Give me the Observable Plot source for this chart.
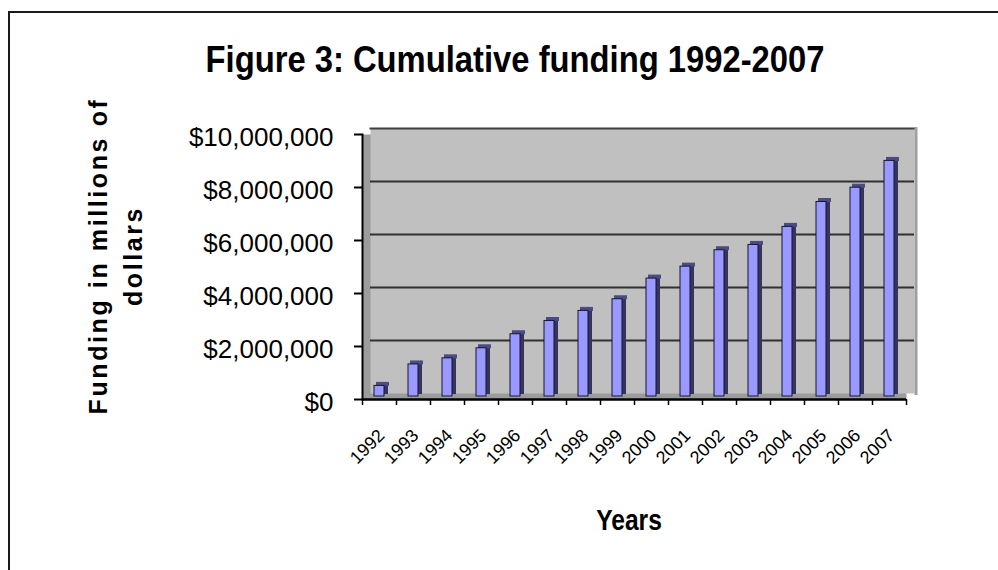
<!DOCTYPE html>
<html><head><meta charset="utf-8">
<script src="https://cdn.jsdelivr.net/npm/d3@7"></script>
<script src="https://cdn.jsdelivr.net/npm/@observablehq/plot@0.6"></script>
<style>
html,body{margin:0;padding:0;background:#fff;overflow:hidden;}
#wrap{position:relative;width:998px;height:570px;overflow:hidden;font-family:"Liberation Sans",Arial,sans-serif;color:#000;}
#border{position:absolute;left:8px;top:11px;width:1200px;height:800px;border-left:2px solid #1a1a1a;border-top:2px solid #1a1a1a;}
#chart{position:absolute;left:0;top:0;}
#title{position:absolute;left:115px;top:42px;width:800px;text-align:center;font-weight:bold;font-size:36px;line-height:36px;white-space:nowrap;transform:scaleX(0.91);}
#ylab{position:absolute;left:-54px;top:221px;width:340px;height:70px;text-align:center;font-weight:bold;font-size:25px;line-height:35px;letter-spacing:2.6px;transform:rotate(-90deg);white-space:nowrap;}
#xlab{position:absolute;left:529px;top:505px;width:200px;text-align:center;font-weight:bold;font-size:30px;line-height:30px;transform:scaleX(0.82);}
</style></head>
<body>
<div id="wrap">
  <div id="border"></div>
  <div id="chart"></div>
  <div id="title">Figure 3: Cumulative funding 1992-2007</div>
  <div id="ylab">Funding in millions of<br>dollars</div>
  <div id="xlab">Years</div>
</div>
<script>
const years = ["1992","1993","1994","1995","1996","1997","1998","1999","2000","2001","2002","2003","2004","2005","2006","2007"];
const funding = [400000,1210000,1440000,1820000,2350000,2850000,3230000,3670000,4450000,4900000,5520000,5720000,6400000,7340000,7880000,8890000];
const yTicks = [0,2000000,4000000,6000000,8000000,10000000];
const data = years.map((year, i) => ({year, value: funding[i]}));

const chart = Plot.plot({
  width: 998, height: 570,
  marginLeft: 362, marginRight: 92, marginTop: 134, marginBottom: 171,
  style: {fontFamily: "Liberation Sans, Arial, sans-serif", color: "#000", background: "transparent", overflow: "visible"},
  x: {type: "band", domain: years, paddingInner: 0, paddingOuter: 0, axis: null, label: null},
  y: {domain: [0, 10000000], axis: null, label: null},
  marks: [
    Plot.frame({fill: "#9c9c9c"}),
    Plot.frame({fill: "#c0c0c0", dx: 8, dy: -6}),
    Plot.frame({anchor: "top", stroke: "#404040", strokeWidth: 2, dx: 8, dy: -6}),
    Plot.frame({anchor: "right", stroke: "#a0a0a0", strokeWidth: 3, dx: 9.5, dy: -6}),
    Plot.ruleY(yTicks.slice(1, -1), {dx: 8, dy: -6, stroke: "#303030", strokeWidth: 2}),
    Plot.barY(data, {x: "year", y: "value", insetLeft: 22, insetRight: 8, dy: -5, fill: "#34345f"}),
    Plot.tickY(data, {x: "year", y: "value", insetLeft: 13, insetRight: 8, dx: 1, dy: -5, stroke: "#4b4b85", strokeWidth: 4}),
    Plot.barY(data, {x: "year", y: "value", insetLeft: 12, insetRight: 12, dy: -3, fill: "#9999ff", stroke: "#161630", strokeWidth: 1}),
    Plot.ruleY([0], {stroke: "#000", strokeWidth: 2.5}),
    Plot.frame({anchor: "left", stroke: "#000", strokeWidth: 2}),
    Plot.axisY({ticks: yTicks, text: null, tickSize: 8, strokeWidth: 2, label: null}),
    Plot.axisY({ticks: yTicks, tickSize: 0, tickPadding: 29, tickFormat: d3.format("$,"), fontSize: 26, dy: 3, label: null}),
    Plot.axisX({text: null, tickSize: 6, dx: -17, strokeWidth: 1.5, label: null}),
    Plot.axisX({ticks: ["2007"], text: null, tickSize: 6, dx: 17, strokeWidth: 1.5, label: null}),
    Plot.axisX({tickSize: 0, tickPadding: 33, tickRotate: -45, fontSize: 18, dx: 2, label: null})
  ]
});
document.getElementById("chart").appendChild(chart);
</script>
</body></html>
